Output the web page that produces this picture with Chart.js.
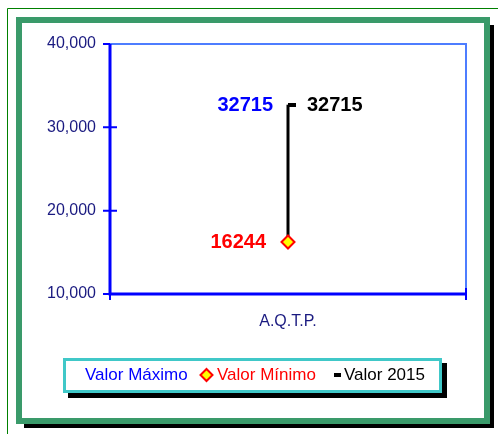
<!DOCTYPE html>
<html>
<head>
<meta charset="utf-8">
<script src="https://cdn.jsdelivr.net/npm/chart.js@4"></script>
<style>
  html, body { margin: 0; padding: 0; background: #fff; overflow: hidden; }
  #wrap { width: 498px; height: 434px; }
</style>
</head>
<body>
<div id="wrap"><canvas id="rangeChart" width="498" height="434"></canvas></div>
<script>
const categories = ['A.Q.T.P.'];
const valorMaximo = [32715];
const valorMinimo = [16244];
const valor2015 = [32715];
const yTicks = [10000, 20000, 30000, 40000];

const navy = '#1a1a80';
const ctx = document.getElementById('rangeChart').getContext('2d');

// small dash drawn to the right of the point (Excel "close" marker)
const dash = document.createElement('canvas');
dash.width = 18; dash.height = 4;
const dctx = dash.getContext('2d');
dctx.fillStyle = '#000';
dctx.fillRect(9, 0, 8, 4);

const framePlugin = {
    id: 'frame',
    beforeDraw(chart) {
        const c = chart.ctx;
        c.save();
        // thin outer green lines
        c.strokeStyle = '#008000';
        c.lineWidth = 1;
        c.beginPath();
        c.moveTo(7.5, 434); c.lineTo(7.5, 8.5); c.lineTo(498, 8.5);
        c.stroke();
        // shadow of the frame
        c.fillStyle = '#000';
        c.fillRect(24, 420, 470, 8);
        c.fillRect(486, 25, 8, 403);
        // frame
        c.fillStyle = '#fff';
        c.fillRect(16, 17, 474, 407);
        c.strokeStyle = '#3a9a6a';
        c.lineWidth = 6;
        c.strokeRect(19, 20, 468, 401);
        c.restore();
    },
    beforeDatasetsDraw(chart) {
        const c = chart.ctx;
        const a = chart.chartArea;
        const y = chart.scales.y;
        const x = chart.scales.x;
        c.save();
        // top + right border of plot area
        c.strokeStyle = '#4d7dff';
        c.lineWidth = 2;
        c.beginPath();
        c.moveTo(a.left, a.top); c.lineTo(a.right, a.top); c.lineTo(a.right, a.bottom);
        c.stroke();
        // axes
        c.strokeStyle = '#0000ff';
        c.lineWidth = 3;
        c.beginPath();
        c.moveTo(a.left, a.top); c.lineTo(a.left, a.bottom); c.lineTo(a.right, a.bottom);
        c.stroke();
        // cross tick marks
        c.lineWidth = 2;
        c.beginPath();
        yTicks.forEach(v => {
            const py = y.getPixelForValue(v);
            c.moveTo(a.left - 7, py); c.lineTo(a.left + (v === 40000 ? 0 : 7), py);
        });
        [a.left, a.right].forEach(px => {
            c.moveTo(px, a.bottom - 6); c.lineTo(px, a.bottom + 6);
        });
        c.stroke();
        // high-low line
        c.strokeStyle = '#000';
        c.lineWidth = 3;
        c.beginPath();
        categories.forEach((cat, i) => {
            const px = x.getPixelForValue(i);
            c.moveTo(px, y.getPixelForValue(valorMaximo[i]));
            c.lineTo(px, y.getPixelForValue(valorMinimo[i]));
        });
        c.stroke();
        c.restore();
    },
    afterDatasetsDraw(chart) {
        const c = chart.ctx;
        const y = chart.scales.y;
        const x = chart.scales.x;
        c.save();
        c.font = 'bold 20px "Liberation Sans", Arial, sans-serif';
        c.textBaseline = 'middle';
        categories.forEach((cat, i) => {
            const px = x.getPixelForValue(i);
            c.textAlign = 'right';
            c.fillStyle = '#0000ff';
            c.fillText(String(valorMaximo[i]), px - 15, y.getPixelForValue(valorMaximo[i]) + 1);
            c.fillStyle = '#ff0000';
            c.fillText(String(valorMinimo[i]), px - 22, y.getPixelForValue(valorMinimo[i]) + 1);
            c.textAlign = 'left';
            c.fillStyle = '#000';
            c.fillText(String(valor2015[i]), px + 19, y.getPixelForValue(valor2015[i]) + 1);
        });
        c.restore();
    },
    afterDraw(chart) {
        // legend box
        const c = chart.ctx;
        c.save();
        c.fillStyle = '#000';
        c.fillRect(68, 363, 379, 35);
        c.fillStyle = '#fff';
        c.fillRect(63, 358, 379, 35);
        c.strokeStyle = '#40c8c8';
        c.lineWidth = 3;
        c.strokeRect(64.5, 359.5, 376, 32);
        c.font = '17px "Liberation Sans", Arial, sans-serif';
        c.textBaseline = 'middle';
        c.textAlign = 'left';
        const ly = 375;
        const ds = chart.data.datasets;
        c.fillStyle = '#0000ff';
        c.fillText(ds[0].label, 85, ly);
        // diamond marker
        c.beginPath();
        c.moveTo(206.5, ly - 6); c.lineTo(212.5, ly); c.lineTo(206.5, ly + 6); c.lineTo(200.5, ly);
        c.closePath();
        c.fillStyle = '#ffff00';
        c.fill();
        c.strokeStyle = '#ff0000';
        c.lineWidth = 2;
        c.stroke();
        c.fillStyle = '#ff0000';
        c.fillText(ds[1].label, 217, ly);
        c.fillStyle = '#000';
        c.fillRect(334, ly - 2, 7, 4);
        c.fillText(ds[2].label, 344, ly);
        c.restore();
    }
};

new Chart(ctx, {
    type: 'line',
    data: {
        labels: categories,
        datasets: [
            {
                label: 'Valor Máximo',
                data: valorMaximo,
                showLine: false,
                pointRadius: 0,
                borderColor: '#0000ff',
                backgroundColor: '#0000ff'
            },
            {
                label: 'Valor Mínimo',
                data: valorMinimo,
                showLine: false,
                pointStyle: 'rectRot',
                pointRadius: 6.5,
                pointBorderWidth: 2,
                borderColor: '#ff0000',
                backgroundColor: '#ffff00'
            },
            {
                label: 'Valor 2015',
                data: valor2015,
                showLine: false,
                pointStyle: dash,
                borderColor: '#000',
                backgroundColor: '#000'
            }
        ]
    },
    plugins: [framePlugin],
    options: {
        responsive: false,
        animation: false,
        layout: { padding: { left: 0, top: 44, right: 32, bottom: 100 } },
        plugins: {
            legend: { display: false },
            tooltip: { enabled: false }
        },
        scales: {
            x: {
                offset: true,
                grid: { display: false },
                border: { display: false },
                ticks: {
                    color: navy,
                    padding: 10,
                    font: { family: '"Liberation Sans", Arial, sans-serif', size: 16 }
                },
                afterFit(scale) { scale.height = 40; }
            },
            y: {
                min: 10000,
                max: 40000,
                grid: { display: false },
                border: { display: false },
                afterBuildTicks(scale) { scale.ticks = yTicks.map(v => ({ value: v })); },
                ticks: {
                    color: navy,
                    padding: 6,
                    font: { family: '"Liberation Sans", Arial, sans-serif', size: 16 },
                    callback: v => v.toLocaleString('en-US')
                },
                afterFit(scale) { scale.width = 110; }
            }
        }
    }
});
</script>
</body>
</html>
